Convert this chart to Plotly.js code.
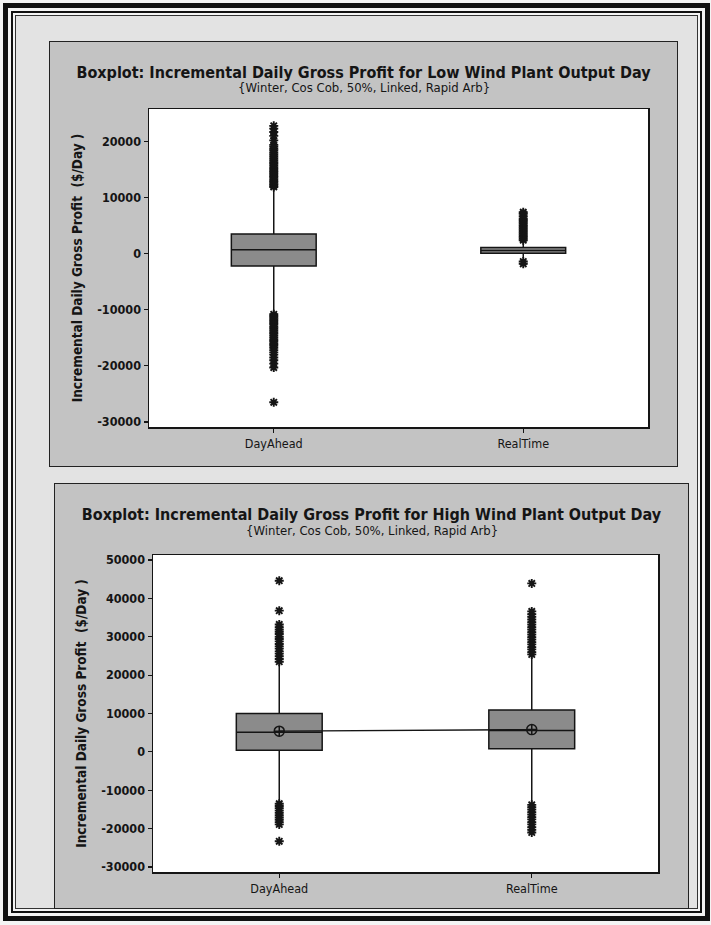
<!DOCTYPE html>
<html><head><meta charset="utf-8">
<script src="https://cdn.plot.ly/plotly-3.0.1.min.js"></script>
<style>
html,body{margin:0;padding:0;background:#fafafa;}
#page{position:relative;width:711px;height:925px;overflow:hidden;background:#f4f4f4;}
.f1{position:absolute;left:3px;top:3px;width:707px;height:918px;box-sizing:border-box;border:5px solid #111;}
.f2{position:absolute;left:11px;top:11px;width:691px;height:902px;box-sizing:border-box;border:2px solid #111;}
.f3{position:absolute;left:15px;top:15px;width:683px;height:894px;box-sizing:border-box;border:1px solid #333;background:#e3e3e3;}
.chart{position:absolute;outline:1.5px solid #222;}
#c1{left:50px;top:42px;width:627px;height:424px;}
#c2{left:55px;top:484px;width:633px;height:424px;}
</style></head>
<body>
<div id="page">
  <div class="f1"></div><div class="f2"></div><div class="f3"></div>
  <div id="c1" class="chart"></div>
  <div id="c2" class="chart"></div>
</div>
<script>
// ---------- data ----------
const categories = ["DayAhead", "RealTime"];

// Low wind plant output day
const lowQ1 = [-2200, 100];
const lowMedian = [700, 550];
const lowQ3 = [3500, 1100];
const lowLowerFence = [-10600, -800];
const lowUpperFence = [11700, 2100];
const lowOutliersDayAhead = [11900, 12150, 12400, 12700, 12950, 13300, 13600, 13850, 14200, 14500, 14750, 15100, 15400, 15700, 16050, 16300, 16650, 17000, 17300, 17650, 18000, 18400, 18700, 19100, 19400, 20200, 21000, 21700, 22300, 22800,
  -10800, -11100, -11400, -11700, -12000, -12350, -12650, -13000, -13300, -13650, -14000, -14300, -14650, -15000, -15400, -15700, -16100, -16400, -16800, -17200, -17600, -18000, -18500, -19000, -19600, -20300, -26500];
const lowOutliersRealTime = [2400, 2700, 3000, 3300, 3600, 3900, 4200, 4500, 4800, 5100, 5400, 5700, 6000, 6300, 6700, 7100, 7400, -1400, -1800];
const lowTicks = [-30000, -20000, -10000, 0, 10000, 20000];
const lowTickText = ["-30000", "-20000", "-10000", "0", "10000", "20000"];

// High wind plant output day
const highQ1 = [400, 800];
const highMedian = [5100, 5600];
const highQ3 = [10000, 10900];
const highLowerFence = [-13000, -13200];
const highUpperFence = [22800, 24800];
const highMean = [5400, 5800];
const highOutliersDayAhead = [23500, 24200, 24900, 25600, 26200, 26900, 27500, 28100, 28800, 29400, 30000, 30700, 31300, 31900, 32500, 33200, 36800, 44600,
  -13500, -14100, -14700, -15300, -15900, -16500, -17100, -17700, -18300, -18900, -23300];
const highOutliersRealTime = [25400, 26000, 26700, 27300, 28000, 28600, 29300, 29900, 30600, 31200, 31900, 32500, 33200, 33800, 34500, 35200, 35900, 36600, 43900,
  -13800, -14400, -15000, -15700, -16300, -17000, -17600, -18300, -18900, -19600, -20300, -21000];
const highTicks = [-30000, -20000, -10000, 0, 10000, 20000, 30000, 40000, 50000];
const highTickText = ["-30000", "-20000", "-10000", "0", "10000", "20000", "30000", "40000", "50000"];

const titleLow = "Boxplot: Incremental Daily Gross Profit for Low Wind Plant Output Day";
const titleHigh = "Boxplot: Incremental Daily Gross Profit for High Wind Plant Output Day";
const subtitle = "{Winter, Cos Cob, 50%, Linked, Rapid Arb}";
const yTitle = "Incremental Daily Gross Profit  ($/Day )";

// ---------- styling ----------
const FONT = "'DejaVu Sans Condensed', 'DejaVu Sans', sans-serif";
const INK = "#151515";
const PANEL = "#c3c3c3";

function boxTrace(q1, med, q3, lf, uf) {
  return {
    type: "box", x: categories, q1: q1, median: med, q3: q3,
    lowerfence: lf, upperfence: uf, width: 0.34, whiskerwidth: 0,
    boxpoints: false, fillcolor: "#8b8b8b",
    line: {color: INK, width: 1.5}, hoverinfo: "skip", showlegend: false
  };
}
function outlierTrace(cat, vals) {
  return {
    type: "scatter", mode: "markers", x: vals.map(() => cat), y: vals,
    marker: {symbol: "asterisk-open", size: 7.5, color: INK, line: {color: INK, width: 1.9}},
    hoverinfo: "skip", showlegend: false
  };
}
function makeLayout(W, H, m, title, yrange, ticks, ticktext) {
  const pw = W - m.l - m.r, ph = H - m.t - m.b;
  return {
    width: W, height: H, margin: m, paper_bgcolor: PANEL, plot_bgcolor: "#ffffff",
    showlegend: false,
    font: {family: FONT, color: INK},
    title: {text: title, x: 0.5, xref: "container", xanchor: "center",
      y: 1 - 30 / H, yref: "container", yanchor: "middle",
      font: {family: FONT, size: 16, weight: "bold", color: INK}},
    annotations: [{
      text: subtitle, xref: "paper", yref: "paper", showarrow: false,
      x: (W / 2 - m.l) / pw, y: 1 + (m.t - 46) / ph, xanchor: "center", yanchor: "middle",
      font: {family: FONT, size: 13, color: INK}
    }],
    xaxis: {type: "category", range: [-0.5, 1.5], showline: true, mirror: true,
      linecolor: INK, linewidth: 1.5, showgrid: false, zeroline: false,
      ticks: "outside", ticklen: 4, tickcolor: INK, tickwidth: 1.2,
      tickfont: {family: FONT, size: 12.5, color: INK}, automargin: false},
    yaxis: {range: yrange, showline: true, mirror: true, linecolor: INK, linewidth: 1.5,
      showgrid: false, zeroline: false, ticks: "outside", ticklen: 4, tickcolor: INK, tickwidth: 1.2,
      tickmode: "array", tickvals: ticks, ticktext: ticktext,
      tickfont: {family: FONT, size: 12.5, weight: "bold", color: INK}, automargin: false,
      title: {text: yTitle, standoff: 11, font: {family: FONT, size: 13.5, weight: "bold", color: INK}}}
  };
}

const lowTraces = [
  boxTrace(lowQ1, lowMedian, lowQ3, lowLowerFence, lowUpperFence),
  outlierTrace(categories[0], lowOutliersDayAhead),
  outlierTrace(categories[1], lowOutliersRealTime)
];
Plotly.newPlot("c1", lowTraces,
  makeLayout(627, 424, {l: 99, r: 29, t: 67, b: 39}, titleLow, [-30900, 25800], lowTicks, lowTickText),
  {staticPlot: true});

const highTraces = [
  boxTrace(highQ1, highMedian, highQ3, highLowerFence, highUpperFence),
  outlierTrace(categories[0], highOutliersDayAhead),
  outlierTrace(categories[1], highOutliersRealTime),
  {type: "scatter", mode: "lines+markers", x: categories, y: highMean,
    line: {color: INK, width: 1.3},
    marker: {symbol: "circle-cross-open", size: 10, color: INK, line: {color: INK, width: 1.5}},
    hoverinfo: "skip", showlegend: false}
];
Plotly.newPlot("c2", highTraces,
  makeLayout(633, 424, {l: 98, r: 30, t: 71, b: 36}, titleHigh, [-31300, 51300], highTicks, highTickText),
  {staticPlot: true});
</script>
</body></html>
